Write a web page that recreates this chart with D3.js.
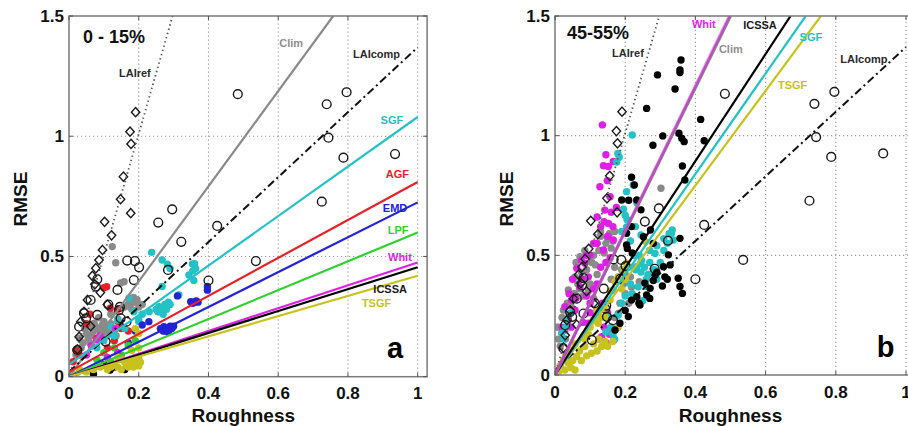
<!DOCTYPE html>
<html><head><meta charset="utf-8">
<script src="https://cdn.jsdelivr.net/npm/d3@7"></script>
<style>
body{margin:0;background:#fff}
svg{display:block}
text{font-family:"Liberation Sans",Arial,sans-serif;font-weight:bold}
</style>
</head><body>
<svg id="chart" width="908" height="426"></svg>
<script>
// ---- axis ticks ----
const xTicks = [0, 0.2, 0.4, 0.6, 0.8, 1];
const xTickLabels = ["0", "0.2", "0.4", "0.6", "0.8", "1"];
const yTicks = [0, 0.5, 1, 1.5];
const yTickLabels = ["0", "0.5", "1", "1.5"];
const gridX = [0.2, 0.4, 0.6, 0.8, 1];
const gridY = [0.5, 1];

// ---- regression lines: name, slope, intercept ----
const linesA_names = ["LAIref", "Clim", "LAIcomp", "SGF", "AGF", "EMD", "LPF", "Whit", "ICSSA", "TSGF"];
const linesA_slope = [5.05, 1.98, 1.35, 1.03, 0.79, 0.725, 0.60, 0.475, 0.455, 0.42];
const linesA_icpt  = [0, 0, 0.02, 0.05, 0.02, 0, 0, 0, 0, 0];

const linesB_names = ["LAIref", "LAIcomp", "TSGF", "SGF", "ICSSA", "Clim", "Whit"];
const linesB_slope = [5.05, 1.35, 1.98, 2.10, 2.235, 3.0, 3.02];
const linesB_icpt  = [0, 0.02, 0, 0, 0, 0, 0];

// ---- reference LAI points (same in both panels) ----
const laiCompPts = [
  [0.484,1.175],[0.739,1.133],[0.796,1.183],[0.744,0.994],[0.787,0.911],[0.935,0.926],
  [0.725,0.728],[0.536,0.481],[0.400,0.400],[0.425,0.627],[0.296,0.696],[0.256,0.641],
  [0.322,0.561],[0.284,0.444],[0.167,0.483],[0.189,0.481],[0.201,0.455],[0.186,0.402],
  [0.139,0.361],[0.146,0.290],[0.113,0.300],[0.165,0.229],[0.148,0.243],[0.105,0.146],
  [0.081,0.405],[0.077,0.375],[0.062,0.319],[0.081,0.257],[0.043,0.264],[0.049,0.243],
  [0.029,0.208],[0.024,0.111],[0.143,0.277]
];
const laiRefPts = [
  [0.191,1.100],[0.175,1.019],[0.178,0.968],[0.156,0.832],[0.148,0.738],[0.177,0.680],
  [0.102,0.644],[0.122,0.588],[0.096,0.527],[0.086,0.485],[0.077,0.451],[0.067,0.419],
  [0.074,0.384],[0.090,0.350],[0.053,0.319],[0.043,0.270],[0.034,0.229],[0.062,0.210],
  [0.029,0.166],[0.024,0.114],[0.110,0.300]
];

// ---- panel a: 0 - 15% gaps ----
const aClim = [
  [0.124,0.541],[0.134,0.474],[0.158,0.395],[0.148,0.390],[0.177,0.305],[0.200,0.290],
  [0.190,0.310],[0.072,0.222],[0.080,0.200],[0.095,0.215],[0.105,0.190],[0.060,0.210],
  [0.050,0.180],[0.065,0.170],[0.110,0.170],[0.120,0.220],[0.130,0.200],[0.090,0.180],
  [0.100,0.230],[0.140,0.240],[0.150,0.210],[0.040,0.140],[0.085,0.245],[0.070,0.190],
  [0.030,0.160],[0.160,0.290],[0.120,0.260],[0.210,0.300],[0.185,0.330],[0.115,0.200],
  [0.045,0.200],[0.055,0.160],[0.075,0.210],[0.085,0.200],[0.095,0.190],[0.105,0.210],
  [0.115,0.180],[0.125,0.190],[0.135,0.170],[0.100,0.160],[0.060,0.140],[0.035,0.120],
  [0.020,0.090],[0.170,0.300],[0.180,0.280],[0.195,0.320]
];
const aAGF = [
  [0.108,0.374],[0.100,0.370],[0.118,0.285],[0.141,0.229],[0.060,0.260],[0.012,0.062],
  [0.020,0.110],[0.140,0.280],[0.150,0.200],[0.130,0.150],[0.050,0.220],[0.080,0.160],
  [0.030,0.090],[0.170,0.190],[0.110,0.120]
];
const aSGF = [
  [0.237,0.517],[0.267,0.485],[0.282,0.468],[0.290,0.450],[0.354,0.469],[0.363,0.450],
  [0.344,0.423],[0.358,0.400],[0.267,0.375],[0.315,0.340],[0.258,0.291],[0.265,0.280],
  [0.275,0.300],[0.250,0.280],[0.260,0.270],[0.270,0.260],[0.186,0.270],[0.172,0.326],
  [0.139,0.236],[0.120,0.210],[0.200,0.240],[0.160,0.200],[0.100,0.150],[0.285,0.310],
  [0.270,0.290],[0.280,0.280],[0.255,0.270],[0.290,0.300],[0.230,0.270],[0.210,0.260],
  [0.200,0.230],[0.130,0.170],[0.080,0.120],[0.360,0.470],[0.355,0.440]
];
const aEMD = [
  [0.229,0.229],[0.272,0.208],[0.280,0.200],[0.275,0.190],[0.290,0.210],[0.262,0.200],
  [0.311,0.336],[0.349,0.312],[0.360,0.310],[0.370,0.310],[0.397,0.375],[0.397,0.360],
  [0.190,0.190],[0.170,0.140],[0.210,0.215],[0.285,0.185],[0.270,0.190],[0.285,0.200],
  [0.295,0.200],[0.300,0.210],[0.365,0.315],[0.355,0.305]
];
const aLPF = [[0.100,0.100],[0.130,0.120],[0.150,0.090],[0.170,0.130],[0.080,0.070],[0.190,0.150],[0.120,0.060]];
const aWhit = [
  [0.180,0.063],[0.185,0.050],[0.134,0.200],[0.079,0.153],[0.089,0.170],[0.064,0.128],
  [0.110,0.080],[0.140,0.100],[0.050,0.090]
];
const aICSSA = [[0.118,0.028],[0.070,0.010],[0.130,0.040],[0.160,0.030],[0.100,0.050]];
const aTSGF = [
  [0.194,0.056],[0.200,0.076],[0.180,0.070],[0.170,0.040],[0.200,0.045],[0.160,0.060],
  [0.150,0.030],[0.130,0.050],[0.090,0.040],[0.050,0.020],[0.190,0.200],[0.200,0.180],
  [0.110,0.030],[0.140,0.080],[0.030,0.030],[0.180,0.110],[0.200,0.120],[0.185,0.040],
  [0.175,0.060],[0.190,0.080],[0.205,0.060],[0.165,0.050],[0.155,0.070],[0.140,0.040],
  [0.120,0.040],[0.070,0.030],[0.020,0.010]
];

// ---- panel b: 45-55% gaps ----
const bClim = [
  [0.302,0.780],[0.071,0.494],[0.057,0.410],[0.038,0.355],[0.024,0.271],[0.010,0.200],
  [0.006,0.200],[0.020,0.240],[0.050,0.330],[0.065,0.380],[0.120,0.550],[0.130,0.580],
  [0.150,0.570],[0.160,0.530],[0.140,0.510],[0.170,0.600],[0.110,0.500],[0.090,0.440],
  [0.218,0.368],[0.200,0.340],[0.180,0.257],[0.210,0.300],[0.200,0.420],[0.190,0.440],
  [0.080,0.330],[0.100,0.380],[0.030,0.150],[0.015,0.120],[0.045,0.290],[0.085,0.520],
  [0.170,0.450],[0.230,0.450],[0.240,0.390],[0.120,0.420],[0.060,0.470],[0.130,0.600],
  [0.155,0.590],[0.165,0.560],[0.145,0.550],[0.125,0.520],[0.105,0.470],[0.115,0.460],
  [0.075,0.430],[0.085,0.400],[0.070,0.360],[0.055,0.340],[0.035,0.300],[0.040,0.250],
  [0.020,0.180],[0.010,0.150],[0.095,0.350],[0.110,0.320],[0.185,0.300],[0.195,0.380],
  [0.215,0.410],[0.225,0.330],[0.170,0.240],[0.160,0.400]
];
const bWhit = [
  [0.135,1.045],[0.145,0.920],[0.138,0.874],[0.152,0.871],[0.166,0.892],[0.149,0.812],
  [0.128,0.787],[0.157,0.745],[0.142,0.689],[0.152,0.633],[0.120,0.660],[0.140,0.641],
  [0.166,0.564],[0.138,0.522],[0.085,0.467],[0.062,0.446],[0.095,0.410],[0.071,0.369],
  [0.047,0.313],[0.028,0.285],[0.057,0.271],[0.038,0.230],[0.028,0.188],[0.133,0.160],
  [0.125,0.150],[0.147,0.133],[0.095,0.216],[0.110,0.360],[0.130,0.450],[0.157,0.490],
  [0.145,0.470],[0.076,0.400],[0.054,0.272],[0.046,0.200],[0.100,0.300],[0.115,0.250],
  [0.168,0.146],[0.160,0.200],[0.120,0.550],[0.100,0.500],[0.165,0.620],[0.150,0.580],
  [0.175,0.700],[0.160,0.680],[0.130,0.620],[0.110,0.550],[0.090,0.500],[0.075,0.480],
  [0.050,0.400],[0.040,0.340],[0.060,0.320],[0.090,0.330],[0.120,0.380],[0.135,0.300],
  [0.150,0.260],[0.100,0.260],[0.080,0.220],[0.020,0.200],[0.140,0.200],[0.155,0.170]
];
const bSGF = [
  [0.220,1.003],[0.179,0.926],[0.183,0.910],[0.176,0.890],[0.223,0.794],[0.204,0.766],
  [0.195,0.693],[0.205,0.650],[0.229,0.620],[0.245,0.585],[0.334,0.606],[0.325,0.590],
  [0.310,0.570],[0.290,0.540],[0.270,0.520],[0.244,0.467],[0.230,0.440],[0.245,0.430],
  [0.265,0.420],[0.280,0.440],[0.290,0.400],[0.200,0.400],[0.332,0.592],[0.337,0.564],
  [0.285,0.508],[0.247,0.479],[0.233,0.452],[0.285,0.439],[0.237,0.369],[0.220,0.340],
  [0.200,0.330],[0.171,0.188],[0.165,0.170],[0.152,0.244],[0.033,0.230],[0.019,0.174],
  [0.204,0.619],[0.200,0.668],[0.233,0.720],[0.260,0.370],[0.250,0.310],[0.190,0.600],
  [0.215,0.560],[0.225,0.500],[0.255,0.450],[0.270,0.470],[0.300,0.470],[0.310,0.520],
  [0.320,0.550],[0.260,0.400],[0.215,0.380],[0.190,0.300],[0.180,0.250],[0.160,0.200],
  [0.145,0.180],[0.030,0.200],[0.045,0.260],[0.025,0.150],[0.210,0.450],[0.240,0.500],
  [0.170,0.150]
];
const bTSGF = [
  [0.043,0.104],[0.062,0.077],[0.085,0.119],[0.104,0.091],[0.133,0.119],[0.142,0.140],
  [0.024,0.063],[0.028,0.021],[0.057,0.021],[0.038,0.050],[0.123,0.216],[0.142,0.244],
  [0.157,0.313],[0.166,0.355],[0.180,0.411],[0.195,0.440],[0.204,0.467],[0.171,0.390],
  [0.157,0.350],[0.119,0.270],[0.109,0.230],[0.095,0.170],[0.057,0.130],[0.258,0.557],
  [0.120,0.100],[0.075,0.060],[0.010,0.010],[0.030,0.080],[0.050,0.060],[0.070,0.100],
  [0.090,0.080],[0.110,0.130],[0.125,0.150],[0.150,0.120],[0.165,0.140],[0.180,0.200],
  [0.140,0.280],[0.130,0.240],[0.190,0.360],[0.200,0.400],[0.015,0.040],[0.045,0.030],
  [0.100,0.200],[0.085,0.150]
];
const bICSSA = [
  [0.359,1.316],[0.356,1.275],[0.356,1.264],[0.292,1.254],[0.342,1.195],[0.261,1.114],
  [0.415,1.068],[0.307,0.999],[0.279,0.960],[0.353,1.010],[0.361,0.989],[0.368,0.975],
  [0.425,0.979],[0.363,0.873],[0.218,0.826],[0.226,0.794],[0.370,0.815],[0.190,0.731],
  [0.233,0.731],[0.363,0.341],[0.356,0.370],[0.356,0.571],[0.306,0.372],[0.320,0.400],
  [0.270,0.320],[0.239,0.300],[0.200,0.270],[0.206,0.529],[0.220,0.510],[0.272,0.606],
  [0.245,0.690],[0.210,0.730],[0.280,0.395],[0.290,0.430],[0.323,0.502],[0.328,0.460],
  [0.351,0.404],[0.309,0.452],[0.313,0.410],[0.285,0.417],[0.271,0.362],[0.261,0.334],
  [0.233,0.327],[0.218,0.313],[0.242,0.292],[0.256,0.384],[0.209,0.244],[0.185,0.216],
  [0.171,0.188],[0.204,0.592],[0.204,0.543],[0.218,0.620],[0.252,0.578],[0.280,0.550]
];

// ---- styles ----
const colors = {
  Clim: "#8a8a8a", SGF: "#22c2c6", AGF: "#e8202a", EMD: "#2222d6", LPF: "#2fd12f",
  Whit: "#e01fe6", ICSSA: "#000000", TSGF: "#c8c21e", LAIref: "#222222", LAIcomp: "#111111"
};
const labelColors = Object.assign({}, colors, {Clim: "#8f8f8f", LAIref: "#2a2a2a", LAIcomp: "#2a2a2a", ICSSA: "#1a1a1a"});

const svg = d3.select("#chart");

function drawPanel(cfg) {
  const x = d3.scaleLinear().domain([0, 1.027]).range([cfg.left, cfg.left + cfg.unitX * 1.027]);
  const y = d3.scaleLinear().domain([0, 1.5]).range([cfg.bottom, cfg.top]);
  const g = svg.append("g");
  const clipId = "clip" + cfg.id;
  g.append("clipPath").attr("id", clipId).append("rect")
    .attr("x", x(0)).attr("y", y(1.5)).attr("width", x(1.027) - x(0)).attr("height", y(0) - y(1.5));

  // dotted grid
  const grid = g.append("g").attr("stroke", "#9a9a9a").attr("stroke-width", 1.1).attr("stroke-dasharray", "1.2,2.8");
  grid.selectAll(".gx").data(gridX).join("line")
    .attr("x1", d => x(d)).attr("x2", d => x(d)).attr("y1", y(0)).attr("y2", y(1.5));
  grid.selectAll(".gy").data(gridY).join("line")
    .attr("y1", d => y(d)).attr("y2", d => y(d)).attr("x1", x(0)).attr("x2", x(1.027));

  const plot = g.append("g").attr("clip-path", `url(#${clipId})`);

  // filled method points
  cfg.dots.forEach(([name, pts]) => {
    plot.append("g").selectAll("circle").data(pts).join("circle")
      .attr("cx", d => x(d[0])).attr("cy", d => y(d[1])).attr("r", 3.7)
      .attr("fill", colors[name]);
  });

  // LAI reference points
  plot.append("g").selectAll("path").data(laiRefPts).join("path")
    .attr("d", d => `M${x(d[0])},${y(d[1]) - 4.6}l4.2,4.6l-4.2,4.6l-4.2,-4.6z`)
    .attr("fill", "none").attr("stroke", "#1a1a1a").attr("stroke-width", 1.4);
  plot.append("g").selectAll("circle").data(laiCompPts).join("circle")
    .attr("cx", d => x(d[0])).attr("cy", d => y(d[1])).attr("r", 4.4)
    .attr("fill", "none").attr("stroke", "#1a1a1a").attr("stroke-width", 1.4);

  // fitted lines
  cfg.lines.names.forEach((name, i) => {
    const s = cfg.lines.slope[i], c = cfg.lines.icpt[i];
    const xEnd = Math.min(1, (1.5 - c) / s);
    const ln = plot.append("line")
      .attr("x1", x(0)).attr("y1", y(c)).attr("x2", x(xEnd)).attr("y2", y(c + s * xEnd))
      .attr("stroke", colors[name]).attr("stroke-width", 2.2);
    if (name === "LAIref") ln.attr("stroke-dasharray", "1.4,3").attr("stroke-width", 1.8).attr("stroke", "#555");
    if (name === "LAIcomp") ln.attr("stroke-dasharray", "8,3.5,2,3.5").attr("stroke-width", 2);
    if (cfg.id === "b" && name === "Whit") ln.attr("stroke-opacity", 0.55).attr("stroke-width", 3);
    if (cfg.id === "b" && name === "Clim") ln.attr("stroke-width", 3);
  });

  // frame
  g.append("rect").attr("x", x(0)).attr("y", y(1.5))
    .attr("width", x(1.027) - x(0)).attr("height", y(0) - y(1.5))
    .attr("fill", "none").attr("stroke", "#7a7a7a").attr("stroke-width", 1.5);

  // inward tick marks
  const tk = g.append("g").attr("stroke", "#555").attr("stroke-width", 1);
  xTicks.forEach(t => {
    tk.append("line").attr("x1", x(t)).attr("x2", x(t)).attr("y1", y(0)).attr("y2", y(0) - 4);
    tk.append("line").attr("x1", x(t)).attr("x2", x(t)).attr("y1", y(1.5)).attr("y2", y(1.5) + 4);
  });
  yTicks.forEach(t => {
    tk.append("line").attr("x1", x(0)).attr("x2", x(0) + 4).attr("y1", y(t)).attr("y2", y(t));
    tk.append("line").attr("x1", x(1.027)).attr("x2", x(1.027) - 4).attr("y1", y(t)).attr("y2", y(t));
  });

  // tick labels
  g.append("g").selectAll("text").data(xTicks).join("text")
    .attr("x", d => x(d)).attr("y", y(0) + 17).attr("text-anchor", "middle")
    .attr("dominant-baseline", "central").attr("font-size", 17).attr("fill", "#111")
    .text((d, i) => xTickLabels[i]);
  g.append("g").selectAll("text").data(yTicks).join("text")
    .attr("x", x(0) - 5).attr("y", d => y(d)).attr("text-anchor", "end")
    .attr("dominant-baseline", "central").attr("font-size", 17).attr("fill", "#111")
    .text((d, i) => yTickLabels[i]);

  // axis titles
  g.append("text").attr("x", x(0.5)).attr("y", 415).attr("text-anchor", "middle")
    .attr("dominant-baseline", "central").attr("font-size", 19).attr("fill", "#111").text("Roughness");
  g.append("text").attr("transform", `translate(${cfg.left - 49},199) rotate(-90)`)
    .attr("text-anchor", "middle").attr("dominant-baseline", "central")
    .attr("font-size", 19).attr("fill", "#111").text("RMSE");

  // line labels
  cfg.labels.forEach(([name, lx, ly]) => {
    g.append("text").attr("x", x(lx)).attr("y", y(ly)).attr("text-anchor", "middle")
      .attr("dominant-baseline", "central").attr("font-size", 11)
      .attr("fill", labelColors[name]).text(name);
  });

  // panel title and letter
  g.append("text").attr("x", x(cfg.title[1])).attr("y", y(cfg.title[2]))
    .attr("dominant-baseline", "central").attr("font-size", 18).attr("fill", "#111").text(cfg.title[0]);
  g.append("text").attr("x", x(cfg.letter[1])).attr("y", y(cfg.letter[2]))
    .attr("text-anchor", "middle").attr("dominant-baseline", "central")
    .attr("font-size", 29).attr("fill", "#000").text(cfg.letter[0]);
}

drawPanel({
  id: "a", left: 69, unitX: 348.7, top: 16, bottom: 376.7,
  dots: [["Clim", aClim], ["AGF", aAGF], ["SGF", aSGF], ["EMD", aEMD], ["LPF", aLPF],
         ["Whit", aWhit], ["ICSSA", aICSSA], ["TSGF", aTSGF]],
  lines: {names: linesA_names, slope: linesA_slope, icpt: linesA_icpt},
  labels: [["LAIref", 0.189, 1.263], ["Clim", 0.637, 1.388], ["LAIcomp", 0.882, 1.342],
           ["SGF", 0.926, 1.068], ["AGF", 0.942, 0.843], ["EMD", 0.935, 0.701],
           ["LPF", 0.944, 0.61], ["Whit", 0.949, 0.498], ["ICSSA", 0.921, 0.365],
           ["TSGF", 0.882, 0.307]],
  title: ["0 - 15%", 0.04, 1.413],
  letter: ["a", 0.935, 0.12]
});

drawPanel({
  id: "b", left: 555, unitX: 351, top: 16, bottom: 375,
  dots: [["Clim", bClim], ["Whit", bWhit], ["SGF", bSGF], ["TSGF", bTSGF], ["ICSSA", bICSSA]],
  lines: {names: linesB_names, slope: linesB_slope, icpt: linesB_icpt},
  labels: [["LAIref", 0.208, 1.346], ["Whit", 0.424, 1.467], ["Clim", 0.501, 1.362],
           ["ICSSA", 0.584, 1.463], ["SGF", 0.729, 1.412], ["LAIcomp", 0.88, 1.32],
           ["TSGF", 0.677, 1.212]],
  title: ["45-55%", 0.034, 1.429],
  letter: ["b", 0.942, 0.117]
});
</script>
</body></html>
